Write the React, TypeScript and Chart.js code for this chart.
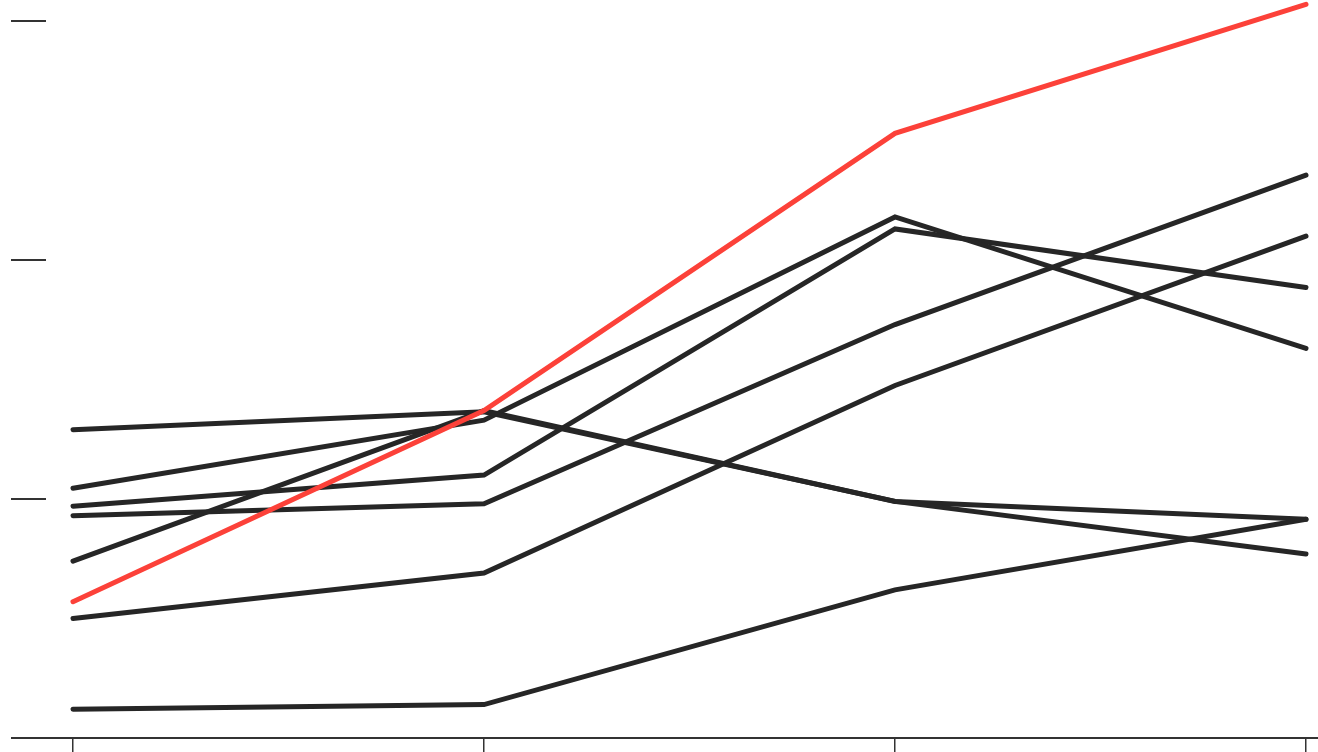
import React, { useEffect, useRef } from 'react';
import { Chart, registerables } from 'chart.js';

Chart.register(...registerables);

// x positions of the four categories
const categories = [0, 1, 2, 3];
const xTickValues = [0, 1, 2, 3];
const yTickValues = [0, 1, 2, 3];

// highlighted (red) series
const highlight = [0.57, 1.37, 2.53, 3.07];

// grey series
const seriesA = [1.29, 1.365, 0.99, 0.77];
const seriesB = [0.74, 1.37, 0.99, 0.915];
const seriesC = [1.045, 1.33, 2.18, 1.63];
const seriesD = [0.97, 1.1, 2.13, 1.885];
const seriesE = [0.93, 0.98, 1.73, 2.355];
const seriesF = [0.5, 0.69, 1.475, 2.1];
const seriesG = [0.12, 0.14, 0.62, 0.915];

const greySeries = [seriesA, seriesB, seriesC, seriesD, seriesE, seriesF, seriesG];

const RED = '#fc4139';
const DARK = '#262626';

export default function App() {
  const ref = useRef<HTMLCanvasElement>(null);

  useEffect(() => {
    document.body.style.margin = '0';
    document.body.style.overflow = 'hidden';
    const toPoints = (vals: number[]) => vals.map((y, i) => ({ x: categories[i], y }));
    const lineStyle = {
      borderWidth: 5,
      borderCapStyle: 'round' as const,
      borderJoinStyle: 'miter' as const,
      pointRadius: 0,
      tension: 0,
      clip: false as const,
      fill: false,
    };
    const chart = new Chart(ref.current as HTMLCanvasElement, {
      type: 'line',
      data: {
        datasets: [
          { data: toPoints(highlight), borderColor: RED, ...lineStyle },
          ...greySeries.map((s) => ({ data: toPoints(s), borderColor: DARK, ...lineStyle })),
        ],
      },
      options: {
        responsive: false,
        animation: false,
        layout: { padding: { left: 11, right: 0, top: 0, bottom: 0 } },
        plugins: { legend: { display: false }, tooltip: { enabled: false } },
        scales: {
          x: {
            type: 'linear',
            min: -27 / 411,
            max: 3 + 12 / 411,
            afterBuildTicks: (s: any) => {
              s.ticks = xTickValues.map((v) => ({ value: v }));
            },
            ticks: { display: false },
            grid: { drawOnChartArea: false, drawTicks: true, tickLength: 14, color: '#333', lineWidth: 1.5 },
            border: { display: true, color: '#333', width: 2 },
          },
          y: {
            type: 'linear',
            min: 0,
            max: 738 / 239,
            afterBuildTicks: (s: any) => {
              s.ticks = yTickValues.map((v) => ({ value: v }));
            },
            ticks: { display: false },
            grid: { drawOnChartArea: false, drawTicks: true, tickLength: 35, color: '#333', lineWidth: 2 },
            border: { display: false },
          },
        },
      },
    });
    return () => chart.destroy();
  }, []);

  return <canvas ref={ref} width={1318} height={752} style={{ display: 'block' }} />;
}
